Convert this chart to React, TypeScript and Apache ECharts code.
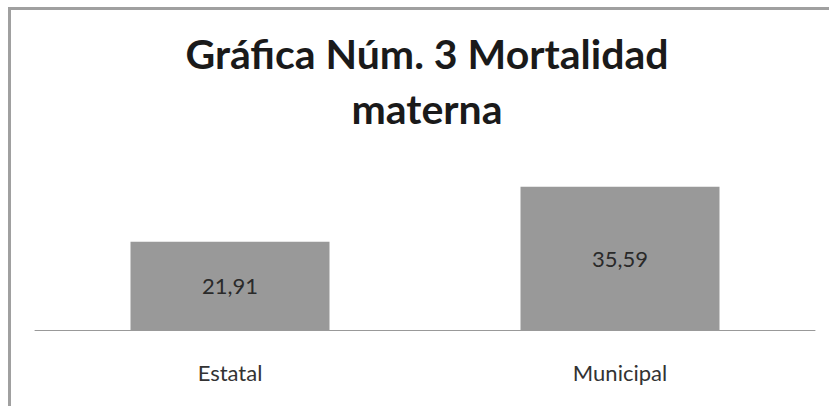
import React, { useEffect, useRef } from "react";
import * as echarts from "echarts";

const titleLines = ["Gráfica Núm. 3 Mortalidad", "materna"];
const categories = ["Estatal", "Municipal"];
const values = [21.91, 35.59];

export default function App() {
  const ref = useRef<HTMLDivElement>(null);
  useEffect(() => {
    if (!ref.current) return;
    const chart = echarts.init(ref.current, null, { renderer: "svg" });
    chart.setOption({
      animation: false,
      backgroundColor: "#ffffff",
      title: {
        text: titleLines.join("\n"),
        left: 422,
        top: 21,
        textAlign: "center",
        textStyle: {
          fontFamily: "Lato",
          fontWeight: "bold",
          fontSize: 41,
          lineHeight: 55,
          color: "#1a1a1a",
        },
      },
      graphic: [
        {
          type: "rect",
          z: 100,
          shape: { x: 816, y: 10, width: 13, height: 396 },
          style: { fill: "#ffffff" },
        },
        {
          type: "line",
          z: 101,
          shape: { x1: 8, y1: 8.5, x2: 829, y2: 8.5 },
          style: { stroke: "#a0a0a0", lineWidth: 3 },
        },
        {
          type: "line",
          z: 101,
          shape: { x1: 9.5, y1: 7, x2: 9.5, y2: 406 },
          style: { stroke: "#a0a0a0", lineWidth: 3 },
        },
      ],
      grid: { left: 35, right: 14, top: 169, height: 161, containLabel: false },
      xAxis: {
        type: "category",
        data: categories,
        axisLine: { lineStyle: { color: "#999999", width: 1 } },
        axisTick: { show: false },
        axisLabel: {
          margin: 31,
          fontFamily: "Lato",
          fontSize: 22,
          color: "#333333",
        },
      },
      yAxis: {
        type: "value",
        min: 0,
        max: 40,
        show: false,
        splitLine: { show: false },
      },
      series: [
        {
          type: "bar",
          data: values,
          barWidth: 199,
          itemStyle: { color: "#999999" },
          label: {
            show: true,
            position: "inside",
            fontFamily: "Lato",
            fontSize: 22,
            color: "#2a2a2a",
            formatter: (p: any) => p.value.toFixed(2).replace(".", ","),
          },
        },
      ],
    });
    return () => chart.dispose();
  }, []);
  return (
    <div
      ref={ref}
      style={{ position: "fixed", left: 0, top: 0, width: 829, height: 406 }}
    />
  );
}
